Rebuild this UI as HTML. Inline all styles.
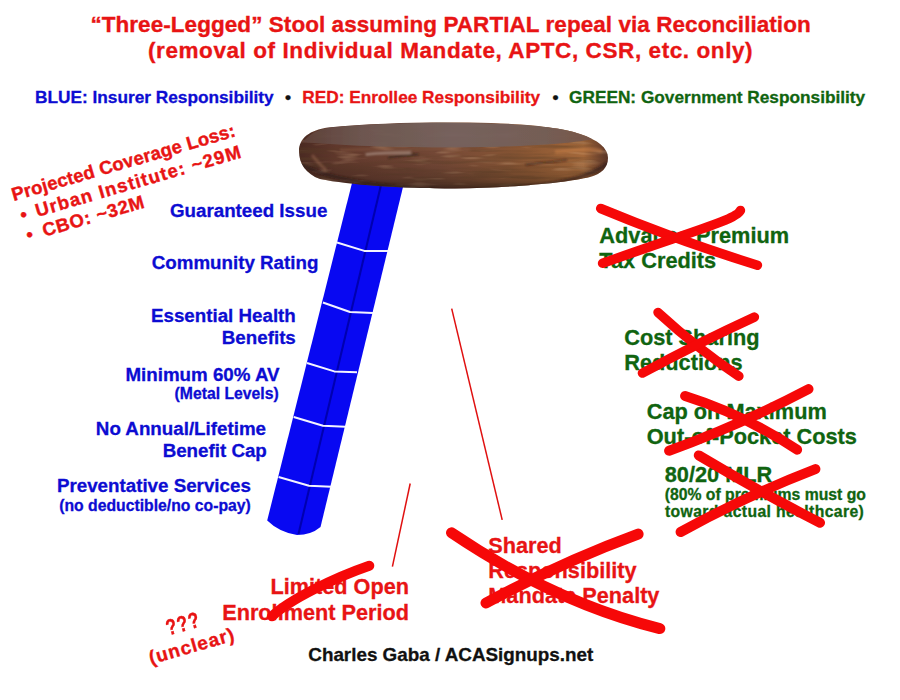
<!DOCTYPE html>
<html><head><meta charset="utf-8">
<style>
html,body{margin:0;padding:0;background:#fff;}
body{width:900px;height:700px;position:relative;overflow:hidden;font-family:"Liberation Sans",sans-serif;font-weight:bold;}
.t{position:absolute;white-space:nowrap;line-height:1;-webkit-text-stroke:0.3px currentColor;}
.rot{position:absolute;width:0;height:0;transform-origin:0 0;}
svg{position:absolute;left:0;top:0;}
</style></head><body>
<div class="t" style="top:14.35px;font-size:22.50px;color:#e81414;left:90.40px;letter-spacing:0.057px;-webkit-text-stroke:0.35px #e81414;">&ldquo;Three-Legged&rdquo; Stool assuming PARTIAL repeal via Reconciliation</div>
<div class="t" style="top:39.95px;font-size:22.50px;color:#e81414;left:148.00px;letter-spacing:0.583px;-webkit-text-stroke:0.35px #e81414;">(removal of Individual Mandate, APTC, CSR, etc. only)</div>
<div class="t" style="top:89.00px;font-size:17.25px;color:#0c0cd2;left:35.00px;">BLUE: Insurer Responsibility</div>
<div class="t" style="top:89.00px;font-size:17.25px;color:#111;left:288.00px;width:0;display:flex;justify-content:center;">&bull;</div>
<div class="t" style="top:89.00px;font-size:17.25px;color:#e81414;left:302.30px;">RED: Enrollee Responsibility</div>
<div class="t" style="top:89.00px;font-size:17.25px;color:#111;left:555.40px;width:0;display:flex;justify-content:center;">&bull;</div>
<div class="t" style="top:89.00px;font-size:17.25px;color:#106410;left:569.00px;">GREEN: Government Responsibility</div>
<div class="t" style="top:201.63px;font-size:18.75px;color:#0c0cd2;right:572.70px;">Guaranteed Issue</div>
<div class="t" style="top:253.63px;font-size:18.75px;color:#0c0cd2;right:581.60px;">Community Rating</div>
<div class="t" style="top:307.13px;font-size:18.75px;color:#0c0cd2;right:604.20px;">Essential Health</div>
<div class="t" style="top:328.63px;font-size:18.75px;color:#0c0cd2;right:604.20px;">Benefits</div>
<div class="t" style="top:365.93px;font-size:18.75px;color:#0c0cd2;right:620.40px;">Minimum 60% AV</div>
<div class="t" style="top:386.07px;font-size:15.75px;color:#0c0cd2;right:621.30px;">(Metal Levels)</div>
<div class="t" style="top:419.93px;font-size:18.75px;color:#0c0cd2;right:634.00px;">No Annual/Lifetime</div>
<div class="t" style="top:441.63px;font-size:18.75px;color:#0c0cd2;right:633.20px;">Benefit Cap</div>
<div class="t" style="top:477.43px;font-size:18.75px;color:#0c0cd2;right:649.20px;">Preventative Services</div>
<div class="t" style="top:497.67px;font-size:15.75px;color:#0c0cd2;right:649.20px;">(no deductible/no co-pay)</div>
<div class="t" style="top:225.19px;font-size:21.75px;color:#106410;left:599.30px;">Advance Premium</div>
<div class="t" style="top:250.09px;font-size:21.75px;color:#106410;left:599.30px;">Tax Credits</div>
<div class="t" style="top:326.69px;font-size:21.75px;color:#106410;left:624.20px;">Cost Sharing</div>
<div class="t" style="top:352.19px;font-size:21.75px;color:#106410;left:624.20px;">Reductions</div>
<div class="t" style="top:401.19px;font-size:21.75px;color:#106410;left:646.70px;">Cap on Maximum</div>
<div class="t" style="top:426.19px;font-size:21.75px;color:#106410;left:646.70px;">Out-of-Pocket Costs</div>
<div class="t" style="top:463.59px;font-size:21.75px;color:#106410;left:664.70px;">80/20 MLR</div>
<div class="t" style="top:486.67px;font-size:15.75px;color:#106410;left:664.70px;">(80% of premiums must go</div>
<div class="t" style="top:504.07px;font-size:15.75px;color:#106410;left:665.00px;letter-spacing:0.37px;">toward actual healthcare)</div>
<div class="t" style="top:535.33px;font-size:21.70px;color:#e81414;left:488.30px;">Shared</div>
<div class="t" style="top:560.33px;font-size:21.70px;color:#e81414;left:488.30px;">Responsibility</div>
<div class="t" style="top:585.33px;font-size:21.70px;color:#e81414;left:488.30px;">Mandate Penalty</div>
<div class="t" style="top:575.83px;font-size:21.70px;color:#e81414;right:491.00px;">Limited Open</div>
<div class="t" style="top:601.93px;font-size:21.70px;color:#e81414;right:491.00px;">Enrollment Period</div>
<div class="t" style="top:645.75px;font-size:18.84px;color:#111111;left:308.30px;">Charles Gaba / ACASignups.net</div>
<div class="rot" style="left:13.60px;top:202.40px;transform:rotate(-16.25deg);"><div class="t" style="top:-15.66px;font-size:18.50px;color:#e81414;left:0.00px;letter-spacing:0.161px;-webkit-text-stroke:0.40px #e81414;">Projected Coverage Loss:</div>
<div class="t" style="top:5.84px;font-size:18.50px;color:#e81414;left:2.50px;letter-spacing:0.000px;-webkit-text-stroke:0.40px #e81414;">&bull;</div>
<div class="t" style="top:5.54px;font-size:18.50px;color:#e81414;left:18.30px;letter-spacing:1.220px;-webkit-text-stroke:0.40px #e81414;">Urban Institute: ~29M</div>
<div class="t" style="top:27.14px;font-size:18.50px;color:#e81414;left:2.50px;letter-spacing:0.000px;-webkit-text-stroke:0.40px #e81414;">&bull;</div>
<div class="t" style="top:26.74px;font-size:18.50px;color:#e81414;left:19.50px;letter-spacing:0.730px;-webkit-text-stroke:0.40px #e81414;">CBO: ~32M</div></div>
<div class="rot" style="left:163.20px;top:661.00px;transform:rotate(-16.00deg);"><div class="t" style="top:-16.08px;font-size:19.00px;color:#e81414;left:-12.40px;letter-spacing:0.916px;-webkit-text-stroke:0.35px #e81414;">(unclear)</div><div class="t" style="top:-41.42px;font-size:22px;color:#e81414;left:12.4px;letter-spacing:1px;-webkit-text-stroke:0.35px #e81414;transform:scaleX(0.8);transform-origin:0 0;">???</div></div>
<svg width="900" height="700" viewBox="0 0 900 700">
  <defs>
    <linearGradient id="rimH" x1="299" y1="0" x2="608" y2="0" gradientUnits="userSpaceOnUse">
      <stop offset="0" stop-color="#4a2a22"/>
      <stop offset="0.12" stop-color="#60382c"/>
      <stop offset="0.45" stop-color="#744836"/>
      <stop offset="0.75" stop-color="#8c5834"/>
      <stop offset="0.92" stop-color="#a4683a"/>
      <stop offset="1" stop-color="#5a3428"/>
    </linearGradient>
    <linearGradient id="rimV" x1="0" y1="122" x2="0" y2="189" gradientUnits="userSpaceOnUse">
      <stop offset="0" stop-color="#000" stop-opacity="0"/>
      <stop offset="0.55" stop-color="#000" stop-opacity="0"/>
      <stop offset="0.85" stop-color="#000" stop-opacity="0.18"/>
      <stop offset="1" stop-color="#000" stop-opacity="0.45"/>
    </linearGradient>
    <linearGradient id="topF" x1="299" y1="0" x2="608" y2="0" gradientUnits="userSpaceOnUse">
      <stop offset="0" stop-color="#5e4038"/>
      <stop offset="0.2" stop-color="#6e5852"/>
      <stop offset="0.5" stop-color="#76645f"/>
      <stop offset="0.8" stop-color="#735e58"/>
      <stop offset="1" stop-color="#7a5444"/>
    </linearGradient>
    <filter id="bl" x="-10%" y="-50%" width="120%" height="200%"><feGaussianBlur stdDeviation="1.2"/></filter>
    <filter id="bl2" x="-10%" y="-50%" width="120%" height="200%"><feGaussianBlur stdDeviation="0.6"/></filter>
  </defs>
  <!-- leg -->
  <path d="M352,183 L403,187 L320.5,527 Q311,535 297,535 Q279,532 267.2,520.4 Z" fill="#0808f2"/>
  <path d="M381,185 L298.5,534" stroke="#0000b0" stroke-width="2.1" fill="none"/>
  <g stroke="#f4f4ff" stroke-width="2" fill="none" stroke-linejoin="round">
    <path d="M337,242.5 L364.3,250.9 L388.6,250.9"/>
    <path d="M322.9,302.5 L350,312 L373,312.9"/>
    <path d="M307,363 L334.3,371.4 L357,372.3"/>
    <path d="M293.7,417 L323,425.8 L345.4,426.7"/>
    <path d="M278.6,477 L309,485.7 L331.5,486.7"/>
  </g>
  <!-- seat -->
  <clipPath id="seatclip"><path d="M299,151 C299,138 310,130 328,127.5 C370,123 420,122 470,122.5 C530,123.5 563,128 580,134 C598,140 608,148 608,158 C608,168 601,174 590,177 C570,182 520,187.5 455,188.5 C400,188.5 350,185 320,179 C306,174 299,164 299,151 Z"/></clipPath>
  <filter id="grain" x="0" y="0" width="100%" height="100%">
    <feTurbulence type="fractalNoise" baseFrequency="0.015 0.25" numOctaves="3" seed="7" result="n"/>
    <feColorMatrix type="matrix" values="0 0 0 0 0.1  0 0 0 0 0.05  0 0 0 0 0.02  0 0 0 -2.2 1.25"/>
  </filter>
  <filter id="grain2" x="0" y="0" width="100%" height="100%">
    <feTurbulence type="fractalNoise" baseFrequency="0.03 0.18" numOctaves="2" seed="3"/>
    <feColorMatrix type="matrix" values="0 0 0 0 0.78  0 0 0 0 0.5  0 0 0 0 0.3  0 0 0 2.6 -1.45"/>
  </filter>
  <g clip-path="url(#seatclip)">
    <rect x="295" y="118" width="320" height="75" fill="url(#rimH)"/>
    <rect x="295" y="118" width="320" height="75" filter="url(#grain2)" opacity="0.45"/>
    <rect x="295" y="118" width="320" height="75" filter="url(#grain)" opacity="0.5"/>
    <rect x="295" y="118" width="320" height="75" fill="url(#rimV)"/>
    <path d="M303,142 C312,131 322,128.5 335,127 C380,123 430,122.5 470,123 C530,124 565,127.5 583,133 C590,135 594,136.5 597,138.5 C570,144 520,147 455,147.5 C390,147.5 340,145.5 303,142 Z" fill="url(#topF)" filter="url(#bl2)" opacity="0.95"/>
    <g filter="url(#bl)" fill="none">
      <path d="M365.6,154.4 C380,153 398,152.5 411,152.5" stroke="#c8b4aa" stroke-width="2.5" opacity="0.55"/>
      <path d="M388,157.3 C400,156 410,155 418.5,154.4" stroke="#2a1c18" stroke-width="2.2" opacity="0.6"/>
      <path d="M525.6,164.8 C540,163 555,161 567.2,160" stroke="#301a12" stroke-width="2.2" opacity="0.55"/>
      <path d="M340,150 C370,149 420,148 470,150" stroke="#8a5a44" stroke-width="2" opacity="0.6"/>
    </g>
    <g filter="url(#bl)" fill="none">
      <path d="M555,152 C575,150 590,148 602,151" stroke="#c88048" stroke-width="4" opacity="0.5"/>
      <path d="M312,155 C316,160 320,165 326,170" stroke="#9a6850" stroke-width="3" opacity="0.5"/>
      <path d="M299,163 C330,183 420,191 470,190 C540,189 585,181 608,163" stroke="#2a1a14" stroke-width="3.5" opacity="0.55"/>
    </g>
  </g>
<!-- thin red lines -->
  <line x1="451.7" y1="308.6" x2="502.2" y2="519.9" stroke="#e01010" stroke-width="1.5"/>
  <line x1="410.2" y1="483.5" x2="392.4" y2="566.7" stroke="#e01010" stroke-width="1.5"/>
  <!-- red X strokes -->
  <g stroke="#f60808" fill="none" stroke-linecap="round">
    <path d="M600.7,208.5 Q679,241 757.4,265.2" stroke-width="9.5"/>
    <path d="M740.4,210.4 C736,220 690,232 602.6,263.3" stroke-width="9.5"/>
    <path d="M658,312.4 Q698,349 738.9,376.2" stroke-width="9.5"/>
    <path d="M754.4,317.1 Q698,343 642.4,373.1" stroke-width="9.5"/>
    <path d="M685.1,396 Q745,415 797.1,449.7" stroke-width="10"/>
    <path d="M808.5,389.1 Q740,425 669.1,450.8" stroke-width="10"/>
    <path d="M698.8,455.4 Q760,492 820,522.8" stroke-width="10"/>
    <path d="M815.4,469.1 Q748,495 680.6,532" stroke-width="10"/>
    <path d="M451.5,532.8 Q554.3,602.3 659.8,628.6" stroke-width="11"/>
    <path d="M638.1,534.1 Q562,561.9 486,603" stroke-width="11"/>
    <path d="M272,616.3 C289,600 334.3,577.7 369.3,565.7" stroke-width="10"/>
  </g>
</svg>

</body></html>
